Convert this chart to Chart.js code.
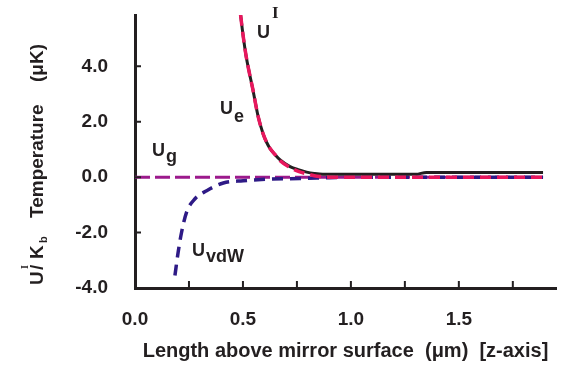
<!DOCTYPE html>
<html lang="en">
<head>
<meta charset="utf-8">
<title>potential above mirror</title>
<style>
  body { margin: 0; background: #fff; }
  #wrap { width: 571px; height: 370px; }
</style>
</head>
<body>
<div id="wrap"><canvas id="myChart" width="571" height="370"></canvas></div>
<script src="https://cdn.jsdelivr.net/npm/chart.js"></script>
<script>
  const INK = '#231f20';
  const SANS = "'Liberation Sans', Arial, Helvetica, sans-serif";
  const SERIF = "'Liberation Serif', 'Times New Roman', serif";

  // total potential U^I (solid black)
  const totX = [0.489, 0.50, 0.514, 0.53, 0.545, 0.57, 0.594, 0.61, 0.625, 0.65, 0.671, 0.718, 0.76, 0.795, 0.83, 0.87, 1.0, 1.30, 1.35, 1.89];
  const totY = [5.86, 5.15, 4.40, 3.75, 3.2, 2.2, 1.55, 1.25, 1.04, 0.8, 0.63, 0.38, 0.26, 0.18, 0.13, 0.1, 0.1, 0.1, 0.17, 0.17];
  // evanescent wave U_e (red dashes)
  const eX = [0.489, 0.50, 0.514, 0.53, 0.545, 0.57, 0.594, 0.61, 0.625, 0.65, 0.671, 0.718, 0.76, 0.795, 0.83, 0.86, 0.9, 1.2, 1.5, 1.89];
  const eY = [5.86, 5.15, 4.40, 3.75, 3.2, 2.2, 1.55, 1.25, 1.04, 0.8, 0.6, 0.35, 0.2, 0.12, 0.05, 0.02, 0, 0, 0, 0];
  // gravity U_g (purple dashes)
  const gX = [0, 1.89];
  const gY = [0, 0];
  // van der Waals U_vdW (blue dashes)
  const vX = [0.185, 0.2, 0.216, 0.239, 0.278, 0.332, 0.409, 0.501, 0.625, 0.764, 0.9, 1.0, 1.89];
  const vY = [-3.55, -2.7, -1.98, -1.26, -0.78, -0.49, -0.21, -0.13, -0.07, -0.05, -0.02, 0, 0];

  const xTicks = [0, 0.25, 0.5, 0.75, 1.0, 1.25, 1.5, 1.75];
  const yTicks = [-4, -2, 0, 2, 4];

  function pts(xs, ys) { return xs.map((x, i) => ({x: x, y: ys[i]})); }

  // inward tick marks
  const tickPlugin = {
    id: 'inTicks',
    afterDatasetsDraw(chart) {
      const c = chart.ctx, xs = chart.scales.x, ys = chart.scales.y;
      c.save();
      c.strokeStyle = INK;
      c.lineWidth = 2;
      c.beginPath();
      xTicks.forEach(v => {
        if (v === 0) return;
        const px = xs.getPixelForValue(v);
        c.moveTo(px, ys.bottom); c.lineTo(px, ys.bottom - 7);
      });
      yTicks.forEach(v => {
        const py = ys.getPixelForValue(v);
        c.moveTo(xs.left, py); c.lineTo(xs.left + 6, py);
      });
      c.stroke();
      c.restore();
    }
  };

  // curve names inside the plot, plus the y title with its super/subscripts
  const labelPlugin = {
    id: 'labels',
    afterDraw(chart) {
      const c = chart.ctx, xs = chart.scales.x, ys = chart.scales.y;
      const P = (x, y) => [xs.getPixelForValue(x), ys.getPixelForValue(y)];
      c.save();
      c.fillStyle = INK;
      c.textBaseline = 'alphabetic';
      c.textAlign = 'left';
      const main = 'bold 18px ' + SANS;

      let p = P(0.565, 5.03);
      c.font = main; c.fillText('U', p[0], p[1]);
      c.font = 'bold 17px ' + SERIF; c.fillText('I', p[0] + 15, p[1] - 20);

      p = P(0.394, 2.29);
      c.font = main; c.fillText('U', p[0], p[1]); c.fillText('e', p[0] + 14, p[1] + 8);

      p = P(0.079, 0.77);
      c.font = main; c.fillText('U', p[0], p[1]); c.fillText('g', p[0] + 14, p[1] + 6);

      p = P(0.264, -2.83);
      c.font = main; c.fillText('U', p[0], p[1]); c.fillText('vdW', p[0] + 14, p[1] + 6);

      // y axis title, rotated
      c.translate(43, 285);
      c.rotate(-Math.PI / 2);
      c.font = 'bold 19px ' + SANS;
      c.fillText('U', 0, 0);
      c.fillText('/', 15, 0);
      c.fillText('K', 26, 0);
      c.fillText('Temperature', 67, 0);
      c.fillText('(\u03bcK)', 203, 0);
      c.font = 'bold 10px ' + SERIF;
      c.fillText('I', 16, -15);
      c.font = 'bold 11px ' + SANS;
      c.fillText('b', 42, 4);
      c.restore();
    }
  };

  const ctx = document.getElementById('myChart');

  const lineSet = (label, data, color, width, dash) => ({
    label: label,
    data: data,
    borderColor: color,
    borderWidth: width,
    borderDash: dash,
    pointRadius: 0,
    showLine: true,
    fill: false,
    cubicInterpolationMode: 'monotone'
  });

  const our_chart = new Chart(ctx, {
    type: 'scatter',
    data: {
      datasets: [
        lineSet('Ue', pts(eX, eY), '#e8175d', 3.5, [11, 6]),
        lineSet('UI', pts(totX, totY), INK, 3, []),
        lineSet('UvdW', pts(vX, vY), '#2e1a86', 3.5, [11, 7]),
        lineSet('Ug', pts(gX, gY), '#9c1a8c', 3, [15, 5])
      ]
    },
    plugins: [tickPlugin, labelPlugin],
    options: {
      responsive: false,
      animation: false,
      devicePixelRatio: 1,
      layout: { padding: { top: 15, right: 15, left: 0, bottom: 0 } },
      plugins: { legend: { display: false }, tooltip: { enabled: false } },
      scales: {
        x: {
          type: 'linear',
          min: 0, max: 1.95,
          afterFit: (s) => { s.height = 82; s.paddingLeft = 0; s.paddingRight = 0; },
          afterBuildTicks: (axis) => { axis.ticks = xTicks.map(v => ({value: v})); },
          grid: { drawOnChartArea: false, drawTicks: false },
          border: { color: INK, width: 3 },
          ticks: {
            padding: 20,
            color: INK,
            font: { family: SANS, size: 19, weight: 'bold' },
            callback: (v) => (Math.abs(v * 2 - Math.round(v * 2)) < 1e-6 ? v.toFixed(1) : '')
          },
          title: {
            display: true,
            text: 'Length above mirror surface  (\u03bcm)  [z-axis]',
            color: INK,
            font: { family: SANS, size: 20, weight: 'bold' },
            padding: { top: 0, bottom: 7 }
          }
        },
        y: {
          type: 'linear',
          min: -4, max: 5.85,
          afterFit: (s) => { s.width = 135; s.paddingTop = 0; s.paddingBottom = 0; },
          afterBuildTicks: (axis) => { axis.ticks = yTicks.map(v => ({value: v})); },
          grid: { drawOnChartArea: false, drawTicks: false },
          border: { color: INK, width: 3 },
          ticks: {
            padding: 27,
            color: INK,
            font: { family: SANS, size: 19, weight: 'bold' },
            callback: (v) => v.toFixed(1)
          }
        }
      }
    }
  });
</script>
</body>
</html>
